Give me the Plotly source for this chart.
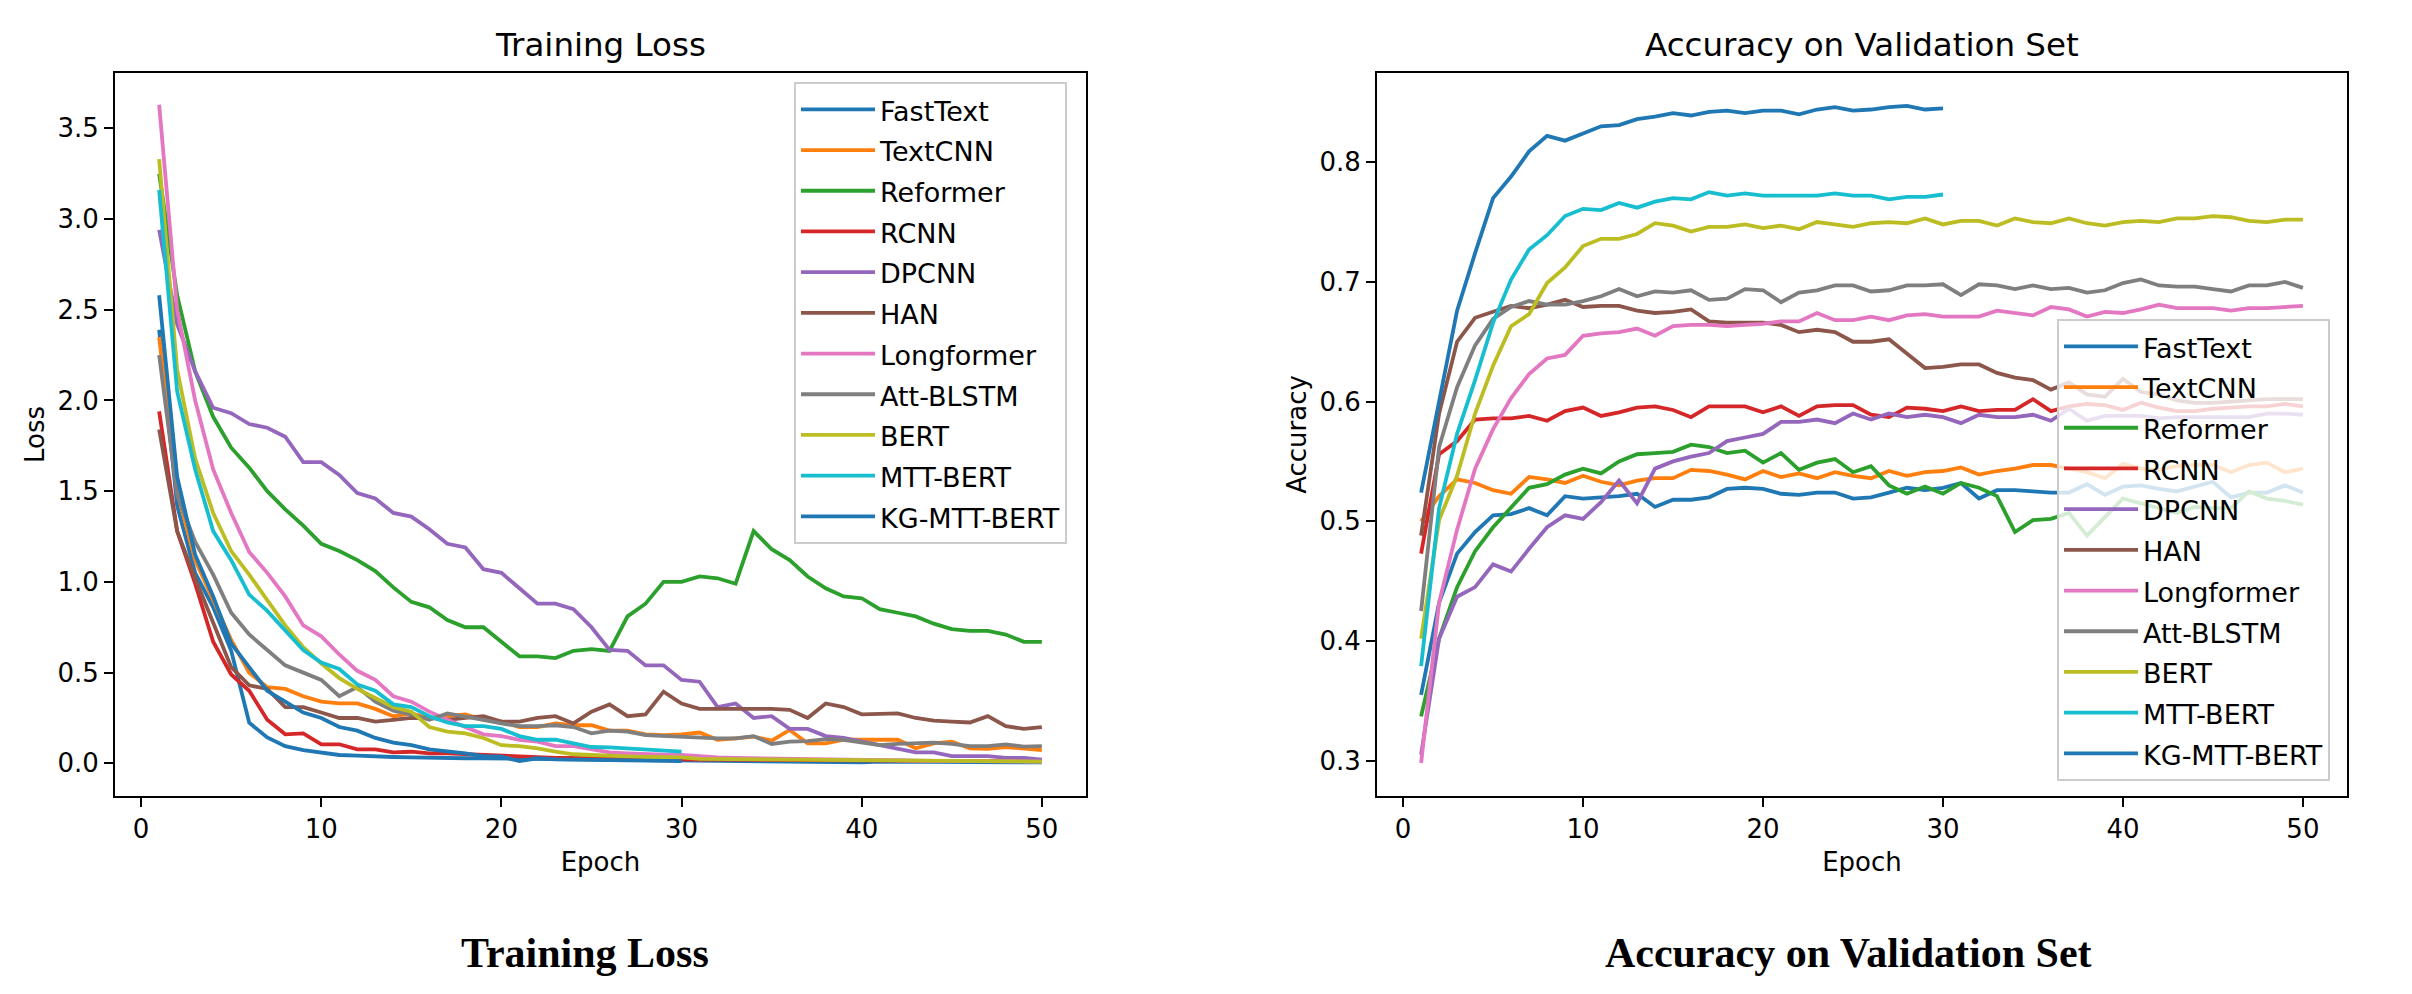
import plotly.graph_objects as go

models = ["FastText", "TextCNN", "Reformer", "RCNN", "DPCNN", "HAN",
          "Longformer", "Att-BLSTM", "BERT", "MTT-BERT", "KG-MTT-BERT"]
colors = ["#1f77b4", "#ff7f0e", "#2ca02c", "#d62728", "#9467bd", "#8c564b",
          "#e377c2", "#7f7f7f", "#bcbd22", "#17becf", "#1f77b4"]
x_ticks = [0, 10, 20, 30, 40, 50]
loss_ticks = [0.0, 0.5, 1.0, 1.5, 2.0, 2.5, 3.0, 3.5]
acc_ticks = [0.3, 0.4, 0.5, 0.6, 0.7, 0.8]

# ---------------- Training loss (epochs 1..N) ----------------
loss_fasttext = [2.39, 1.42, 1.05, 0.86, 0.62, 0.224, 0.143, 0.095, 0.073, 0.06,
                 0.046, 0.042, 0.037, 0.035, 0.033, 0.03, 0.03, 0.028, 0.027, 0.026,
                 0.025, 0.024, 0.022, 0.022, 0.02, 0.02, 0.019, 0.018, 0.018, 0.017,
                 0.015, 0.014, 0.014, 0.013, 0.012, 0.012, 0.011, 0.006, 0.01, 0.005,
                 0.009, 0.008, 0.008, 0.007, 0.006, 0.008, 0.006, 0.006, 0.005, 0.006]
loss_textcnn = [2.35, 1.5, 1.12, 0.9, 0.68, 0.50, 0.42, 0.41, 0.37, 0.34,
                0.33, 0.33, 0.30, 0.26, 0.275, 0.25, 0.26, 0.27, 0.24, 0.23,
                0.20, 0.20, 0.22, 0.21, 0.21, 0.18, 0.18, 0.16, 0.156, 0.16,
                0.17, 0.13, 0.138, 0.147, 0.125, 0.184, 0.11, 0.11, 0.13, 0.132,
                0.13, 0.13, 0.083, 0.11, 0.12, 0.083, 0.08, 0.09, 0.083, 0.073]
loss_reformer = [3.25, 2.58, 2.16, 1.91, 1.74, 1.63, 1.50, 1.40, 1.31, 1.21,
                 1.17, 1.12, 1.06, 0.97, 0.89, 0.86, 0.79, 0.75, 0.75, 0.67,
                 0.59, 0.59, 0.58, 0.62, 0.63, 0.62, 0.81, 0.88, 1.00, 1.00,
                 1.03, 1.02, 0.99, 1.28, 1.18, 1.12, 1.03, 0.965, 0.92, 0.91,
                 0.85, 0.83, 0.81, 0.77, 0.74, 0.73, 0.73, 0.71, 0.67, 0.67]
loss_rcnn = [1.94, 1.28, 0.99, 0.67, 0.49, 0.40, 0.24, 0.16, 0.165, 0.105,
             0.105, 0.077, 0.077, 0.06, 0.064, 0.055, 0.055, 0.05, 0.045, 0.04,
             0.037, 0.035, 0.03, 0.03, 0.028, 0.027, 0.025, 0.024, 0.023, 0.022,
             0.021, 0.02, 0.02, 0.019, 0.018, 0.018, 0.017, 0.017, 0.016, 0.016,
             0.015, 0.015, 0.014, 0.015, 0.014, 0.013, 0.013, 0.012, 0.012, 0.012]
loss_dpcnn = [2.94, 2.42, 2.16, 1.96, 1.93, 1.87, 1.85, 1.80, 1.66, 1.66,
              1.59, 1.49, 1.46, 1.38, 1.36, 1.29, 1.21, 1.19, 1.07, 1.05,
              0.965, 0.88, 0.88, 0.85, 0.75, 0.625, 0.62, 0.54, 0.54, 0.46,
              0.45, 0.31, 0.33, 0.25, 0.26, 0.19, 0.19, 0.15, 0.14, 0.12,
              0.10, 0.083, 0.06, 0.06, 0.04, 0.04, 0.04, 0.03, 0.03, 0.02]
loss_han = [1.84, 1.28, 1.02, 0.78, 0.53, 0.43, 0.41, 0.31, 0.31, 0.28,
            0.25, 0.25, 0.23, 0.24, 0.25, 0.25, 0.24, 0.25, 0.26, 0.23,
            0.23, 0.25, 0.26, 0.22, 0.285, 0.325, 0.26, 0.27, 0.395, 0.33,
            0.30, 0.30, 0.30, 0.305, 0.30, 0.295, 0.25, 0.33, 0.31, 0.27,
            0.27, 0.275, 0.25, 0.235, 0.23, 0.225, 0.26, 0.205, 0.19, 0.20]
loss_longformer = [3.63, 2.50, 2.00, 1.62, 1.38, 1.165, 1.05, 0.92, 0.76, 0.70,
                   0.60, 0.51, 0.46, 0.37, 0.34, 0.285, 0.24, 0.20, 0.16, 0.15,
                   0.13, 0.12, 0.095, 0.095, 0.077, 0.06, 0.055, 0.05, 0.048, 0.046,
                   0.037, 0.033, 0.03, 0.028, 0.03, 0.025, 0.022, 0.02, 0.02, 0.018,
                   0.017, 0.016, 0.015, 0.014, 0.013, 0.012, 0.012, 0.011, 0.01, 0.01]
loss_attblstm = [2.25, 1.48, 1.22, 1.04, 0.83, 0.71, 0.625, 0.54, 0.50, 0.46,
                 0.37, 0.42, 0.34, 0.29, 0.27, 0.24, 0.275, 0.26, 0.24, 0.22,
                 0.205, 0.205, 0.21, 0.20, 0.165, 0.18, 0.175, 0.155, 0.15, 0.147,
                 0.143, 0.138, 0.138, 0.15, 0.107, 0.12, 0.123, 0.134, 0.13, 0.114,
                 0.10, 0.107, 0.11, 0.114, 0.107, 0.095, 0.095, 0.105, 0.092, 0.095]
loss_bert = [3.33, 2.17, 1.68, 1.38, 1.17, 1.04, 0.90, 0.76, 0.64, 0.55,
             0.47, 0.41, 0.36, 0.31, 0.285, 0.20, 0.175, 0.165, 0.14, 0.10,
             0.095, 0.083, 0.064, 0.05, 0.046, 0.04, 0.038, 0.035, 0.035, 0.033,
             0.025, 0.024, 0.023, 0.022, 0.02, 0.02, 0.019, 0.018, 0.017, 0.016,
             0.015, 0.015, 0.014, 0.013, 0.012, 0.012, 0.011, 0.011, 0.01, 0.01]
loss_mttbert = [3.16, 2.05, 1.62, 1.28, 1.12, 0.93, 0.84, 0.73, 0.625, 0.555,
                0.52, 0.435, 0.40, 0.325, 0.31, 0.26, 0.225, 0.205, 0.205, 0.19,
                0.15, 0.13, 0.13, 0.11, 0.09, 0.088, 0.083, 0.08, 0.075, 0.065]
loss_kgmttbert = [2.58, 1.58, 1.15, 0.92, 0.66, 0.53, 0.40, 0.34, 0.28, 0.25,
                  0.20, 0.18, 0.14, 0.114, 0.10, 0.077, 0.068, 0.055, 0.04, 0.037,
                  0.013, 0.028, 0.022, 0.02, 0.018, 0.018, 0.015, 0.014, 0.015, 0.012]

# ---------------- Validation accuracy (epochs 1..N) ----------------
acc_fasttext = [0.355, 0.432, 0.473, 0.491, 0.505, 0.506, 0.511, 0.505, 0.521, 0.519,
                0.520, 0.521, 0.523, 0.512, 0.518, 0.518, 0.520, 0.527, 0.528, 0.527,
                0.523, 0.522, 0.524, 0.524, 0.519, 0.520, 0.524, 0.528, 0.526, 0.528,
                0.532, 0.519, 0.526, 0.526, 0.525, 0.524, 0.524, 0.531, 0.522, 0.529,
                0.530, 0.527, 0.525, 0.529, 0.533, 0.520, 0.524, 0.524, 0.530, 0.524]
acc_textcnn = [0.500, 0.521, 0.535, 0.532, 0.526, 0.523, 0.537, 0.535, 0.532, 0.538,
               0.533, 0.530, 0.534, 0.536, 0.536, 0.543, 0.542, 0.539, 0.535, 0.542,
               0.537, 0.540, 0.536, 0.541, 0.538, 0.536, 0.542, 0.538, 0.541, 0.542,
               0.545, 0.539, 0.542, 0.544, 0.547, 0.547, 0.544, 0.541, 0.536, 0.548,
               0.544, 0.543, 0.546, 0.547, 0.547, 0.541, 0.547, 0.549, 0.541, 0.544]
acc_reformer = [0.337, 0.402, 0.445, 0.475, 0.495, 0.511, 0.528, 0.531, 0.539, 0.544,
                0.540, 0.550, 0.556, 0.557, 0.558, 0.564, 0.562, 0.557, 0.559, 0.549,
                0.557, 0.543, 0.549, 0.552, 0.541, 0.546, 0.530, 0.523, 0.529, 0.523,
                0.532, 0.528, 0.521, 0.491, 0.501, 0.502, 0.507, 0.488, 0.504, 0.519,
                0.515, 0.511, 0.507, 0.512, 0.511, 0.511, 0.525, 0.519, 0.517, 0.514]
acc_rcnn = [0.473, 0.556, 0.567, 0.585, 0.586, 0.586, 0.588, 0.584, 0.592, 0.595,
            0.588, 0.591, 0.595, 0.596, 0.593, 0.587, 0.596, 0.596, 0.596, 0.591,
            0.596, 0.588, 0.596, 0.597, 0.597, 0.589, 0.587, 0.595, 0.594, 0.592,
            0.596, 0.592, 0.593, 0.593, 0.602, 0.592, 0.596, 0.598, 0.597, 0.593,
            0.599, 0.595, 0.592, 0.592, 0.594, 0.595, 0.596, 0.596, 0.598, 0.596]
acc_dpcnn = [0.305, 0.402, 0.437, 0.445, 0.464, 0.458, 0.477, 0.495, 0.505, 0.502,
             0.516, 0.534, 0.515, 0.544, 0.550, 0.554, 0.557, 0.567, 0.570, 0.573,
             0.583, 0.583, 0.585, 0.582, 0.590, 0.585, 0.590, 0.587, 0.589, 0.587,
             0.582, 0.589, 0.587, 0.587, 0.589, 0.584, 0.594, 0.584, 0.588, 0.588,
             0.588, 0.586, 0.587, 0.587, 0.587, 0.587, 0.587, 0.590, 0.590, 0.589]
acc_han = [0.488, 0.590, 0.650, 0.670, 0.675, 0.680, 0.678, 0.681, 0.685, 0.679,
           0.680, 0.680, 0.676, 0.674, 0.675, 0.677, 0.667, 0.666, 0.666, 0.666,
           0.664, 0.658, 0.660, 0.658, 0.650, 0.650, 0.652, 0.640, 0.628, 0.629,
           0.631, 0.631, 0.624, 0.620, 0.618, 0.610, 0.616, 0.606, 0.604, 0.619,
           0.608, 0.606, 0.601, 0.599, 0.599, 0.600, 0.601, 0.602, 0.602, 0.602]
acc_longformer = [0.298, 0.432, 0.493, 0.544, 0.577, 0.603, 0.623, 0.636, 0.639, 0.655,
                  0.657, 0.658, 0.661, 0.655, 0.663, 0.664, 0.664, 0.663, 0.664, 0.665,
                  0.667, 0.667, 0.674, 0.668, 0.668, 0.671, 0.668, 0.672, 0.673, 0.671,
                  0.671, 0.671, 0.676, 0.674, 0.672, 0.679, 0.677, 0.671, 0.675, 0.674,
                  0.677, 0.681, 0.678, 0.678, 0.678, 0.676, 0.678, 0.678, 0.679, 0.680]
acc_attblstm = [0.425, 0.562, 0.612, 0.647, 0.669, 0.679, 0.684, 0.681, 0.681, 0.684,
                0.688, 0.694, 0.688, 0.692, 0.691, 0.693, 0.685, 0.686, 0.694, 0.693,
                0.683, 0.691, 0.693, 0.697, 0.697, 0.692, 0.693, 0.697, 0.697, 0.698,
                0.689, 0.698, 0.697, 0.694, 0.697, 0.694, 0.695, 0.691, 0.693, 0.699,
                0.702, 0.697, 0.696, 0.696, 0.694, 0.692, 0.697, 0.697, 0.700, 0.695]
acc_bert = [0.402, 0.501, 0.538, 0.590, 0.630, 0.663, 0.673, 0.699, 0.712, 0.730,
            0.736, 0.736, 0.740, 0.749, 0.747, 0.742, 0.746, 0.746, 0.748, 0.745,
            0.747, 0.744, 0.750, 0.748, 0.746, 0.749, 0.750, 0.749, 0.753, 0.748,
            0.751, 0.751, 0.747, 0.753, 0.750, 0.749, 0.753, 0.749, 0.747, 0.750,
            0.751, 0.750, 0.753, 0.753, 0.755, 0.754, 0.751, 0.750, 0.752, 0.752]
acc_mttbert = [0.379, 0.511, 0.573, 0.618, 0.666, 0.702, 0.727, 0.739, 0.755, 0.761,
               0.760, 0.766, 0.762, 0.767, 0.770, 0.769, 0.775, 0.772, 0.774, 0.772,
               0.772, 0.772, 0.772, 0.774, 0.772, 0.772, 0.769, 0.771, 0.771, 0.773]
acc_kgmttbert = [0.524, 0.600, 0.676, 0.724, 0.770, 0.788, 0.809, 0.822, 0.818, 0.824,
                 0.830, 0.831, 0.836, 0.838, 0.841, 0.839, 0.842, 0.843, 0.841, 0.843,
                 0.843, 0.840, 0.844, 0.846, 0.843, 0.844, 0.846, 0.847, 0.844, 0.845]

loss_series = [loss_fasttext, loss_textcnn, loss_reformer, loss_rcnn, loss_dpcnn,
               loss_han, loss_longformer, loss_attblstm, loss_bert, loss_mttbert,
               loss_kgmttbert]
acc_series = [acc_fasttext, acc_textcnn, acc_reformer, acc_rcnn, acc_dpcnn,
              acc_han, acc_longformer, acc_attblstm, acc_bert, acc_mttbert,
              acc_kgmttbert]

# The page body has an 8px default margin, so the figure is drawn 8px smaller
# and all page-pixel positions are offset by 8px.
OFF = 8
W, H = 2412 - OFF, 994 - OFF
ML, MR, MT, MB = 115 - OFF, 65, 73 - OFF, 198
PW = W - ML - MR
PH = H - MT - MB

FONT = "DejaVu Sans"
LW = 3.8


def px_x(p):
    return (p - OFF - ML) / PW


def px_y(p):
    return (H - MB - (p - OFF)) / PH


def legend_name(n):
    return '<span style="font-size:27px">' + n + '</span>'


fig = go.Figure()
for name, col, ys in zip(models, colors, loss_series):
    fig.add_trace(go.Scatter(x=list(range(1, len(ys) + 1)), y=ys, mode="lines",
                             name=legend_name(name), line=dict(color=col, width=LW),
                             xaxis="x", yaxis="y", legend="legend"))
for name, col, ys in zip(models, colors, acc_series):
    fig.add_trace(go.Scatter(x=list(range(1, len(ys) + 1)), y=ys, mode="lines",
                             name=legend_name(name), line=dict(color=col, width=LW),
                             xaxis="x2", yaxis="y2", legend="legend2"))

axis_common = dict(showline=True, linecolor="black", linewidth=2, mirror=True,
                   ticks="outside", ticklen=9, tickwidth=2, tickcolor="black",
                   showgrid=False, zeroline=False, automargin=False,
                   tickfont=dict(family=FONT, size=26, color="black"))

leg_common = dict(bgcolor="rgba(255,255,255,0.8)", bordercolor="#cccccc",
                  borderwidth=2, font=dict(family=FONT, size=29, color="black"),
                  xanchor="left", yanchor="top", itemwidth=74, tracegroupgap=0)

title_font = dict(family=FONT, size=26, color="black")

fig.update_layout(
    width=W, height=H,
    paper_bgcolor="white", plot_bgcolor="white",
    margin=dict(l=ML, r=MR, t=MT, b=MB, autoexpand=False),
    showlegend=True,
    xaxis=dict(domain=[0, px_x(1086)], range=[-1.45, 52.45],
               tickvals=x_ticks, anchor="y",
               title=dict(text="Epoch", font=title_font, standoff=10),
               **axis_common),
    yaxis=dict(domain=[0, 1], range=[-0.180, 3.805], anchor="x",
               tickvals=loss_ticks, tickformat=".1f",
               title=dict(text="Loss", font=title_font, standoff=5),
               **axis_common),
    xaxis2=dict(domain=[px_x(1377), 1], range=[-1.45, 52.45],
                tickvals=x_ticks, anchor="y2",
                title=dict(text="Epoch", font=title_font, standoff=10),
                **axis_common),
    yaxis2=dict(domain=[0, 1], range=[0.2705, 0.8745], anchor="x2",
                tickvals=acc_ticks, tickformat=".1f",
                title=dict(text="Accuracy", font=title_font, standoff=5),
                **axis_common),
    legend=dict(x=px_x(794), y=px_y(82), **leg_common),
    legend2=dict(x=px_x(2057), y=px_y(319), **leg_common),
)

annotations = [
    dict(text="Training Loss", x=(px_x(115) + px_x(1086)) / 2, y=px_y(45),
         xref="paper", yref="paper", xanchor="center", yanchor="middle",
         showarrow=False, font=dict(family=FONT, size=32.5, color="black")),
    dict(text="Accuracy on Validation Set", x=(px_x(1377) + px_x(2347)) / 2, y=px_y(45),
         xref="paper", yref="paper", xanchor="center", yanchor="middle",
         showarrow=False, font=dict(family=FONT, size=32.5, color="black")),
    dict(text="<b>Training Loss</b>", x=px_x(585), y=px_y(953),
         xref="paper", yref="paper", xanchor="center", yanchor="middle",
         showarrow=False, font=dict(family="Liberation Serif", size=42, color="black")),
    dict(text="<b>Accuracy on Validation Set</b>", x=px_x(1848), y=px_y(953),
         xref="paper", yref="paper", xanchor="center", yanchor="middle",
         showarrow=False, font=dict(family="Liberation Serif", size=42, color="black")),
]
fig.update_layout(annotations=annotations)

fig.write_html("out.html")
